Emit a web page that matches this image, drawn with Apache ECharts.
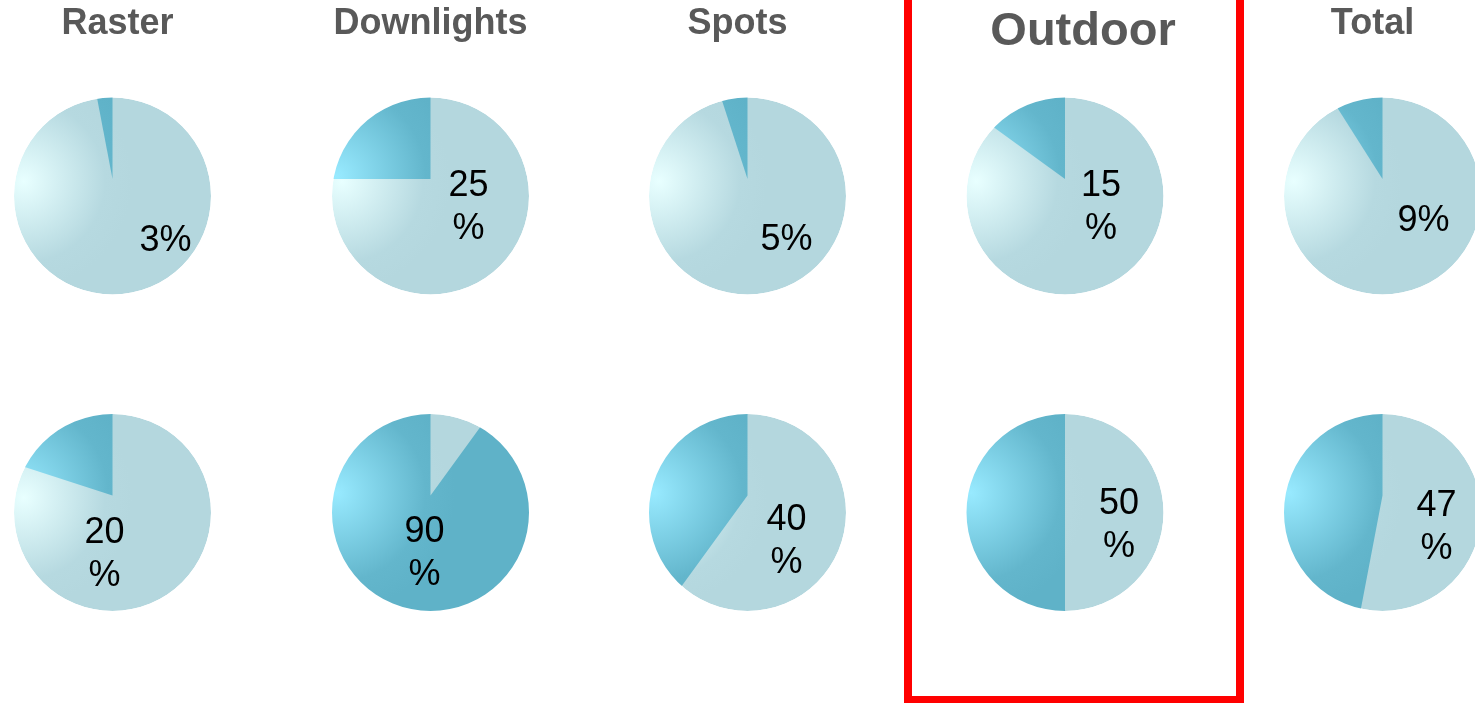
<!DOCTYPE html>
<html>
<head>
<meta charset="utf-8">
<script src="https://cdn.jsdelivr.net/npm/echarts@6/dist/echarts.min.js"></script>
<style>
html,body{margin:0;padding:0;background:#fff;}
#chart{width:1475px;height:703px;}
</style>
</head>
<body>
<div id="chart"></div>
<script>
// ---- data ----
const categories = ['Raster', 'Downlights', 'Spots', 'Outdoor', 'Total'];
const topShares = [3, 25, 5, 15, 9];
const bottomShares = [20, 90, 40, 50, 47];
const topLabels = ['3%', '25\n%', '5%', '15\n%', '9%'];
const bottomLabels = ['20\n%', '90\n%', '40\n%', '50\n%', '47\n%'];
const highlightedCategory = 'Outdoor';

// ---- layout / style ----
const colX = [112.5, 430.5, 747.5, 1065, 1382.5];
const rowY = [196, 512.5];
const R = 98.5;
const APEX = 17; // slice apex sits above the outline centre (tilted pie)
const topLabelShift = [[53, 45], [38, 12], [39, 44], [36, 12], [41, 25]];
const bottomLabelShift = [[-8, 42], [-6, 41], [39, 29], [54, 13], [54, 15]];

function hiGrad(cx, cy) {
  return {type: 'radial', x: cx - 0.95 * R, y: cy - 0.2 * R, r: 1.2 * R, global: true,
    colorStops: [{offset: 0, color: '#98eaff'}, {offset: 0.75, color: '#63b6cc'}, {offset: 1, color: '#5fb2c8'}]};
}
function restGrad(cx, cy) {
  return {type: 'radial', x: cx - 0.9 * R, y: cy - 0.15 * R, r: 1.1 * R, global: true,
    colorStops: [{offset: 0, color: '#e8ffff'}, {offset: 0.75, color: '#b6d9e0'}, {offset: 1, color: '#b4d7de'}]};
}

const base = {
  type: 'pie', startAngle: 90, clockwise: true, silent: true, animation: false,
  avoidLabelOverlap: false, label: {show: false}, labelLine: {show: false},
  emphasis: {disabled: true}, itemStyle: {borderWidth: 0}
};

const series = [];
[[topShares, topLabels, topLabelShift], [bottomShares, bottomLabels, bottomLabelShift]].forEach((row, ri) => {
  const [shares, labels, shifts] = row;
  shares.forEach((v, ci) => {
    const cx = colX[ci], cy = rowY[ri];
    // outline disc (whole = 100%)
    series.push(Object.assign({}, base, {
      center: [cx, cy], radius: R, z: 1,
      data: [{name: categories[ci] + ' whole', value: (100 - v) + v, itemStyle: {color: restGrad(cx, cy)}}]
    }));
    // highlighted share, drawn from the apex
    series.push(Object.assign({}, base, {
      center: [cx, cy - APEX], radius: R + APEX + 2, z: 2,
      labelLayout: {dx: shifts[ci][0], dy: shifts[ci][1] + APEX},
      data: [
        {name: categories[ci] + ' rest', value: 100 - v, itemStyle: {color: 'rgba(0,0,0,0)'}},
        {name: categories[ci], value: v, itemStyle: {color: hiGrad(cx, cy)},
          label: {show: true, position: 'center', formatter: labels[ci],
            fontSize: 36, lineHeight: 43, color: '#000',
            fontFamily: 'Liberation Sans, Arial, sans-serif', fontWeight: 'normal'}}
      ]
    }));
    // white mask ring trimming the apex slice to the outline
    series.push(Object.assign({}, base, {
      center: [cx, cy], radius: [R, R + 2 * APEX + 8], z: 3,
      data: [{name: 'mask', value: 1, itemStyle: {color: '#ffffff'}}]
    }));
  });
});

const graphic = categories.map((c, i) => {
  const big = c === highlightedCategory;
  return {
    type: 'text', x: colX[i] + (i === 0 ? 5 : i === 2 ? -10 : i === 3 ? 18 : i === 4 ? -10 : 0), y: big ? 32 : 24,
    style: {text: c, fill: '#595959', font: 'bold ' + (big ? 47 : 36) + 'px "Liberation Sans", Arial, sans-serif',
      textAlign: 'center', textVerticalAlign: 'middle'}, z: 20
  };
});
graphic.push({
  type: 'rect', shape: {x: 908, y: -20, width: 332, height: 720},
  style: {fill: 'none', stroke: '#ff0000', lineWidth: 8}, z: 20
});

const chart = echarts.init(document.getElementById('chart'), null, {renderer: 'canvas'});
chart.setOption({
  backgroundColor: '#ffffff',
  animation: false,
  series: series,
  graphic: graphic
});
</script>
</body>
</html>
